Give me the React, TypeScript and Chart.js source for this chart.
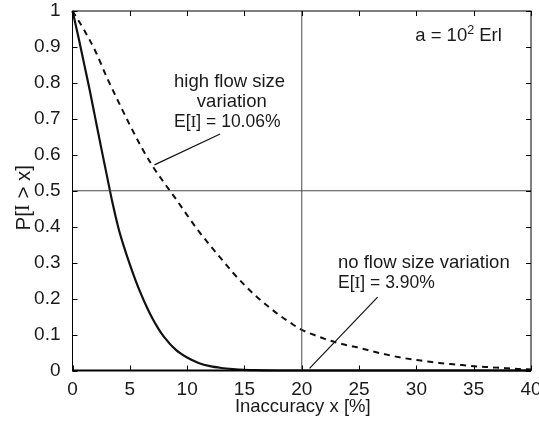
import React, { useEffect, useRef } from "react";
import { Chart, registerables } from "chart.js";

Chart.register(...registerables);

// ---- data ----
const solidX = [0, 0.5, 1, 1.5, 2, 2.5, 3, 3.5, 4, 4.5, 5, 5.5, 6, 6.5, 7, 7.5, 8, 9, 10, 11, 12, 13, 14, 15, 16, 18, 20, 25, 30, 35, 40];
const solidY = [1.0, 0.93, 0.855, 0.78, 0.70, 0.62, 0.542, 0.465, 0.397, 0.343, 0.295, 0.251, 0.211, 0.175, 0.143, 0.116, 0.093, 0.058, 0.036, 0.021, 0.012, 0.007, 0.004, 0.002, 0.001, 0, 0, 0, 0, 0, 0];

const dashedX = [0, 1, 2, 3, 4, 5, 6, 7, 8, 9, 10, 11, 12, 13, 14, 15, 16, 17, 18, 19, 20, 21, 22, 23, 24, 25, 26, 27, 28, 29, 30, 31, 32, 33, 34, 35, 36, 37, 38, 39, 40];
const dashedY = [1.0, 0.948, 0.888, 0.815, 0.748, 0.683, 0.622, 0.568, 0.522, 0.478, 0.432, 0.388, 0.348, 0.31, 0.272, 0.238, 0.207, 0.18, 0.155, 0.133, 0.113, 0.1, 0.088, 0.078, 0.07, 0.063, 0.055, 0.047, 0.04, 0.034, 0.029, 0.025, 0.021, 0.018, 0.015, 0.012, 0.01, 0.008, 0.006, 0.004, 0.003];

const refHX = [0, 40];
const refHY = [0.5, 0.5];
const refVX = [20, 20];
const refVY = [0, 1];

const leaderHighX = [7.15, 12.88];
const leaderHighY = [0.572, 0.658];
const leaderNoX = [20.68, 26.62];
const leaderNoY = [0.006, 0.204];

const xTickLabels = ["0", "5", "10", "15", "20", "25", "30", "35", "40"];
const yTickLabels = ["0", "0.1", "0.2", "0.3", "0.4", "0.5", "0.6", "0.7", "0.8", "0.9", "1"];

const xTitle = "Inaccuracy x [%]";
const yTitleParts = ["P[", "I", " > x]"];
const highLines = ["high flow size", "variation"];
const highMean = ["E[", "I", "] = 10.06%"];
const noLine = "no flow size variation";
const noMean = ["E[", "I", "] = 3.90%"];
const ergParts = ["a = 10", "2", " Erl"];

// ---- styles ----
const SANS = "'Liberation Sans', Arial, Helvetica, sans-serif";
const SERIF = "'Liberation Serif', 'Times New Roman', serif";
const FS = 18.5;
const TEXT = "#1a1a1a";

const pts = (xs: number[], ys: number[]) => xs.map((x, i) => ({ x, y: ys[i] }));

type Part = { t: string; font: string; dy?: number };

function drawRich(ctx: CanvasRenderingContext2D, parts: Part[], x: number, y: number, align: "left" | "center") {
  let total = 0;
  const widths = parts.map((p) => {
    ctx.font = p.font;
    const w = ctx.measureText(p.t).width;
    total += w;
    return w;
  });
  let cx = align === "center" ? x - total / 2 : x;
  ctx.textAlign = "left";
  parts.forEach((p, i) => {
    ctx.font = p.font;
    ctx.fillText(p.t, cx, y + (p.dy || 0));
    cx += widths[i];
  });
}

const sans = `${FS}px ${SANS}`;
const meanParts = (a: string[], size: number): Part[] => [
  { t: a[0], font: `${size}px ${SANS}` },
  { t: a[1], font: `${size}px ${SERIF}` },
  { t: a[2], font: `${size}px ${SANS}` },
];

const framePlugin = {
  id: "frame",
  afterDatasetsDraw(chart: any) {
    const { ctx, chartArea: a, scales } = chart;
    const xs = scales.x, ys = scales.y;
    ctx.save();
    ctx.strokeStyle = "#000";
    ctx.lineWidth = 1;
    ctx.strokeRect(a.left, a.top, a.right - a.left, a.bottom - a.top);
    ctx.lineWidth = 2;
    ctx.beginPath();
    ctx.moveTo(a.left, a.bottom);
    ctx.lineTo(a.right, a.bottom);
    ctx.stroke();
    ctx.lineWidth = 1;
    const tl = 5;
    ctx.beginPath();
    xs.ticks.forEach((t: any) => {
      const px = Math.round(xs.getPixelForValue(t.value)) + 0.5;
      ctx.moveTo(px, a.bottom);
      ctx.lineTo(px, a.bottom - tl);
      ctx.moveTo(px, a.top);
      ctx.lineTo(px, a.top + tl);
    });
    ys.ticks.forEach((t: any) => {
      const py = Math.round(ys.getPixelForValue(t.value)) + 0.5;
      ctx.moveTo(a.left, py);
      ctx.lineTo(a.left + tl, py);
      ctx.moveTo(a.right, py);
      ctx.lineTo(a.right - tl, py);
    });
    ctx.stroke();
    ctx.restore();
  },
  afterDraw(chart: any) {
    const { ctx, chartArea: a, scales } = chart;
    const xs = scales.x, ys = scales.y;
    const X = (v: number) => xs.getPixelForValue(v);
    const Y = (v: number) => ys.getPixelForValue(v);
    ctx.save();
    ctx.fillStyle = TEXT;
    ctx.textBaseline = "middle";

    // axis titles
    drawRich(ctx, [{ t: xTitle, font: sans }], (a.left + a.right) / 2 + 1, 407, "center");
    ctx.save();
    ctx.translate(24, (a.top + a.bottom) / 2 + 7);
    ctx.rotate(-Math.PI / 2);
    drawRich(ctx, meanParts(yTitleParts, 20.5), 0, 0, "center");
    ctx.restore();

    // high flow size variation
    drawRich(ctx, [{ t: highLines[0], font: sans }], X(13.7), Y(0.803), "center");
    drawRich(ctx, [{ t: highLines[1], font: sans }], X(13.9), Y(0.746), "center");
    drawRich(ctx, meanParts(highMean, 17.5), X(13.5), Y(0.69), "center");

    // no flow size variation
    drawRich(ctx, [{ t: noLine, font: sans }], X(23.16), Y(0.298), "left");
    drawRich(ctx, meanParts(noMean, 17.5), X(23.16), Y(0.2426), "left");

    // a = 10^2 Erl
    drawRich(
      ctx,
      [
        { t: ergParts[0], font: sans },
        { t: ergParts[1], font: `12.5px ${SANS}`, dy: -6 },
        { t: ergParts[2], font: sans },
      ],
      X(29.9),
      Y(0.93),
      "left"
    );
    ctx.restore();
  },
};

export default function App() {
  const ref = useRef<HTMLCanvasElement>(null);
  useEffect(() => {
    if (!ref.current) return;
    const line = (d: any, extra: any) => ({
      data: d,
      borderColor: "#111",
      borderWidth: 1,
      pointRadius: 0,
      fill: false,
      clip: false,
      ...extra,
    });
    const chart = new Chart(ref.current, {
      type: "line",
      data: {
        datasets: [
          line(pts(refHX, refHY), { borderColor: "#4a4a4a", borderWidth: 1 }),
          line(pts(refVX, refVY), { borderColor: "#4a4a4a", borderWidth: 1 }),
          line(pts(leaderHighX, leaderHighY), { borderColor: "#111", borderWidth: 1.2 }),
          line(pts(leaderNoX, leaderNoY), { borderColor: "#111", borderWidth: 1.2 }),
          line(pts(dashedX, dashedY), { borderWidth: 2, borderDash: [6, 5], cubicInterpolationMode: "monotone" }),
          line(pts(solidX, solidY), { borderWidth: 2.2, cubicInterpolationMode: "monotone" }),
        ],
      },
      options: {
        animation: false,
        responsive: false,
        maintainAspectRatio: false,
        layout: { padding: { top: 11, right: 8, left: 0, bottom: 0 } },
        plugins: { legend: { display: false }, tooltip: { enabled: false } },
        scales: {
          x: {
            type: "linear",
            min: 0,
            max: 40,
            grid: { display: false },
            border: { display: false },
            ticks: {
              stepSize: 5,
              padding: 0,
              color: TEXT,
              maxRotation: 0,
              font: { family: SANS, size: 19 },
              callback: (v: any) => xTickLabels[Math.round(Number(v) / 5)] ?? "",
            },
            afterFit: (s: any) => {
              s.height = 52.5;
              s.paddingLeft = 0;
              s.paddingRight = 0;
            },
          },
          y: {
            type: "linear",
            min: 0,
            max: 1,
            grid: { display: false },
            border: { display: false },
            ticks: {
              stepSize: 0.1,
              padding: 4,
              color: TEXT,
              font: { family: SANS, size: 19 },
              callback: (v: any) => yTickLabels[Math.round(Number(v) * 10)] ?? "",
            },
            afterFit: (s: any) => {
              s.width = 72.5;
              s.paddingTop = 0;
              s.paddingBottom = 0;
            },
          },
        },
      } as any,
      plugins: [framePlugin],
    });
    return () => chart.destroy();
  }, []);
  return (
    <div style={{ position: "absolute", left: 0, top: 0, width: 539, height: 423, background: "#fff" }}>
      <canvas ref={ref} width={539} height={423} style={{ display: "block" }} />
    </div>
  );
}
